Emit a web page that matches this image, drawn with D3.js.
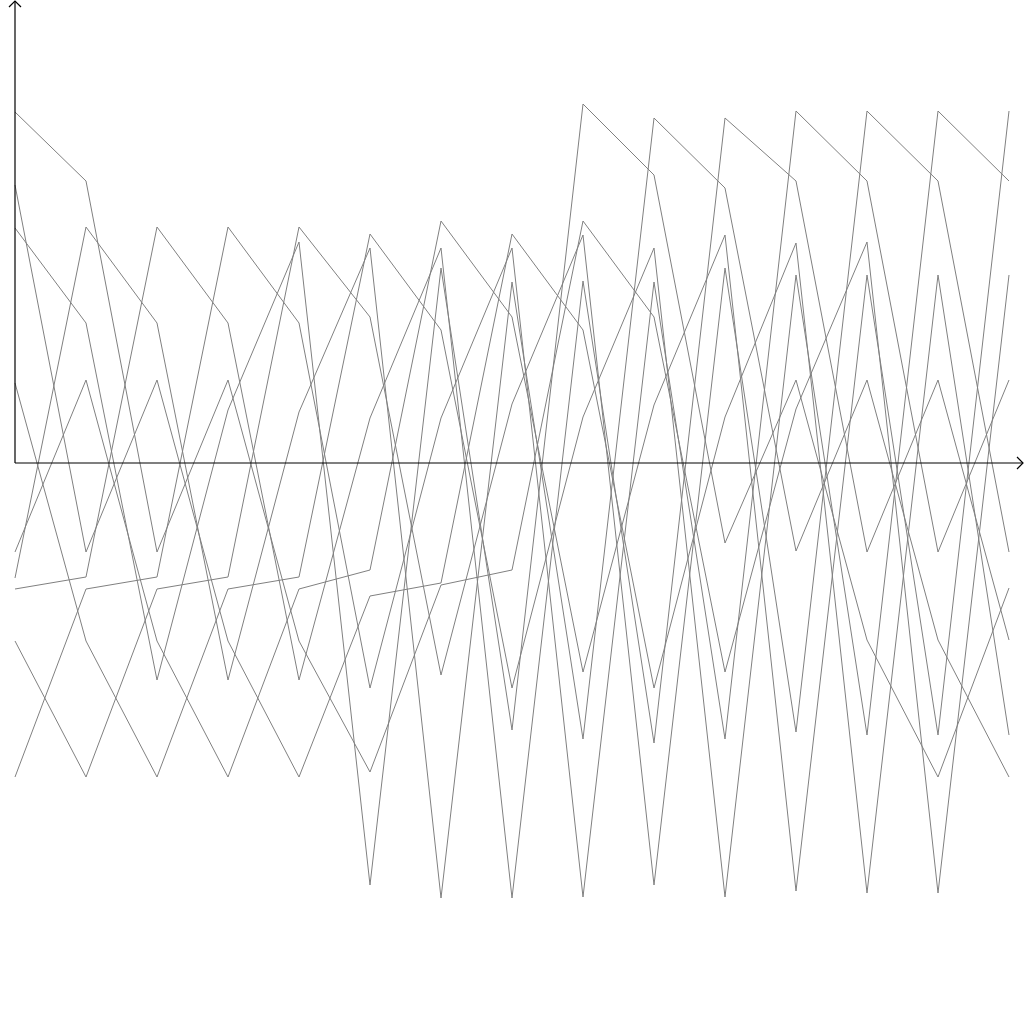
<!DOCTYPE html>
<html>
<head>
<meta charset="utf-8">
<script src="https://cdn.jsdelivr.net/npm/d3@7"></script>
<style>
html,body{margin:0;padding:0;background:#fff;}
svg{display:block;}
</style>
</head>
<body>
<svg id="chart" width="1024" height="1024"></svg>
<script>
// x positions (index of observation)
const steps = d3.range(15);
// series values (data units, 0 = x axis)
const seriesA = [3.51, 2.82, -0.89, 0.83, -1.78, -3.09, -1.22, -1.07, 2.42, 1.46, -2.09, 0.54, 2.21, -4.30, 1.88];
const seriesB = [2.78, -0.89, 0.83, -1.78, -3.14, -1.33, -1.20, 2.29, 1.33, -2.25, 0.46, 2.20, -4.30, 1.88, -2.72];
const seriesC = [-0.89, 0.83, -1.78, -3.14, -1.26, -1.07, 2.42, 1.46, -2.09, 0.58, 2.28, -4.28, 1.88, -2.72, 3.52];
const seriesD = [0.80, -1.78, -3.14, -1.26, -1.14, 2.29, 1.33, -2.25, 0.46, 2.15, -4.34, 1.88, -2.72, 3.52, 2.82];
const seriesE = [-1.78, -3.14, -1.26, -1.14, 2.36, 1.46, -2.12, 0.59, 2.28, -4.22, 1.95, -2.69, 3.52, 2.82, -0.89];
const seriesF = [-3.14, -1.26, -1.14, 2.36, 1.40, -2.25, 0.45, 2.15, -4.34, 1.81, -2.76, 3.52, 2.82, -0.89, 0.83];
const seriesG = [-1.26, -1.14, 2.36, 1.40, -2.17, 0.45, 2.15, -4.35, 1.82, -2.80, 3.45, 2.82, -0.89, 0.83, -1.77];
const seriesH = [-1.15, 2.36, 1.40, -2.17, 0.51, 2.15, -4.35, 1.81, -2.76, 3.45, 2.75, -0.88, 0.83, -1.77, -3.14];
const seriesI = [2.35, 1.40, -2.17, 0.53, 2.21, -4.22, 1.95, -2.67, 3.59, 2.88, -0.80, 0.83, -1.77, -3.14, -1.25];
const allSeries = [seriesA, seriesB, seriesC, seriesD, seriesE, seriesF, seriesG, seriesH, seriesI];

const svg = d3.select("#chart");
const x = d3.scaleLinear().domain([0, 14]).range([15, 1009]);
const y = d3.scaleLinear().domain([-4.63, 4.63]).range([926, 0]);

const line = d3.line()
  .x((d, i) => x(steps[i]))
  .y(d => y(d));

svg.append("g")
  .selectAll("path")
  .data(allSeries)
  .join("path")
  .attr("d", d => line(d))
  .attr("fill", "none")
  .attr("stroke", "#808080")
  .attr("stroke-width", 1);

// axes
const ax = svg.append("g").attr("stroke", "#000").attr("stroke-width", 1.2).attr("fill", "none");
const x0 = x(0), y0 = y(0);
ax.append("line").attr("x1", x0).attr("y1", y0).attr("x2", 1023).attr("y2", y0);
ax.append("path").attr("d", `M1017,${y0 - 6}L1023,${y0}L1017,${y0 + 6}`);
ax.append("line").attr("x1", x0).attr("y1", y0).attr("x2", x0).attr("y2", 1);
ax.append("path").attr("d", `M${x0 - 6},7L${x0},1L${x0 + 6},7`);
</script>
</body>
</html>
